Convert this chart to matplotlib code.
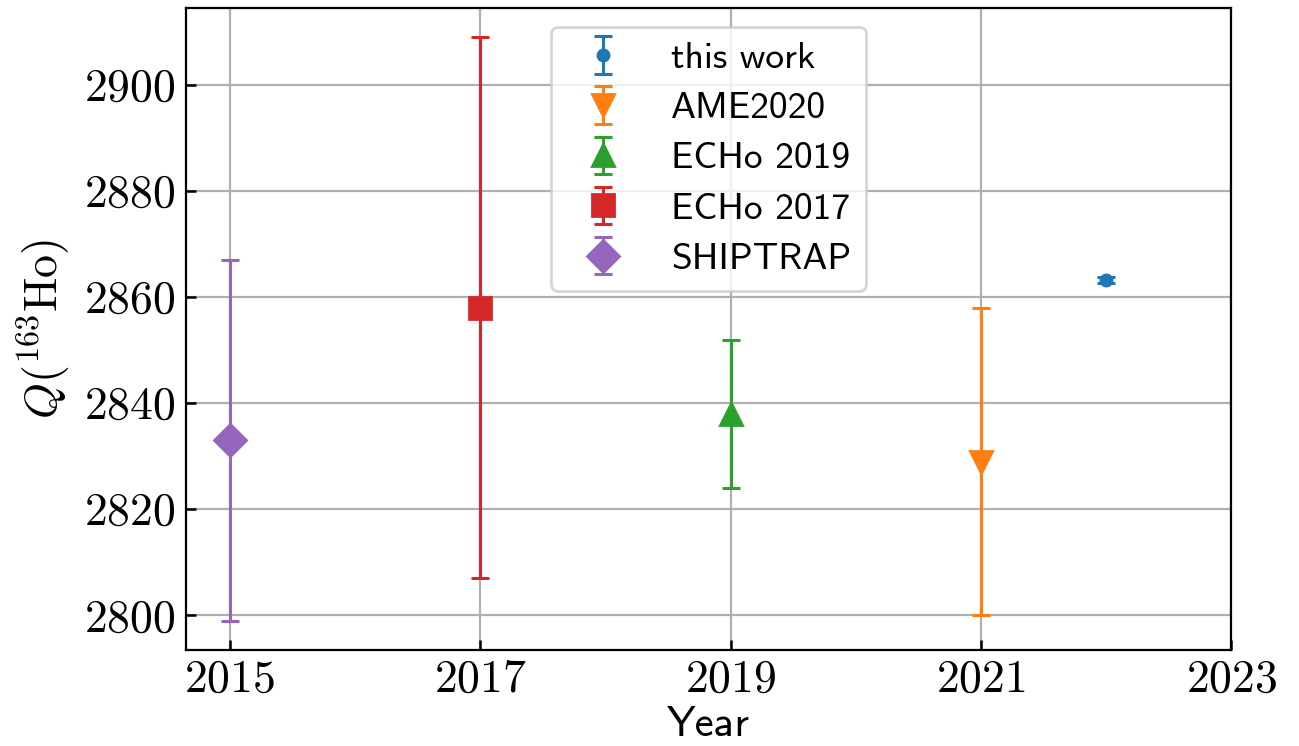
import numpy as np
import matplotlib
matplotlib.use('Agg')
import matplotlib.pyplot as plt

labels = ['this work', 'AME2020', 'ECHo 2019', 'ECHo 2017', 'SHIPTRAP']
years = [2022, 2021, 2019, 2017, 2015]
q_vals = [2863.2, 2829, 2838, 2858, 2833]
q_errs = [0.6, 29, 14, 51, 34]
markers = ['.', 'v', '^', 's', 'D']

xticks = [2015, 2017, 2019, 2021, 2023]
yticks = [2800, 2820, 2840, 2860, 2880, 2900]

plt.rcParams['mathtext.fontset'] = 'cm'
plt.rcParams['font.family'] = 'cmss10'
plt.rcParams['axes.unicode_minus'] = False

fig = plt.figure(figsize=(6.495, 3.73), dpi=200)
ax = fig.add_axes([0.143, 0.129, 0.805, 0.860])

for lab, x, y, e, m in zip(labels, years, q_vals, q_errs, markers):
    ax.errorbar(x, y, yerr=e, fmt=m, markersize=8, capsize=3.3,
                elinewidth=1.1, capthick=1.1, label=lab)

ax.set_xlim(2014.65, 2023)
ax.set_xticks(xticks, labels=[f'${v}$' for v in xticks])
ax.set_yticks(yticks, labels=[f'${v}$' for v in yticks])
ax.tick_params(direction='in', labelsize=16.5, length=3.5, width=0.9)
ax.grid(True, color='#b0b0b0', linewidth=0.8)
ax.set_axisbelow(True)

ax.set_xlabel('Year', fontsize=15.5, labelpad=2)
ax.set_ylabel(r'$Q(^{163}\mathrm{Ho})$', fontsize=16.5)
ax.legend(loc='upper center', fontsize=13.5, labelspacing=0.45)

plt.savefig('out.png', dpi=200)
